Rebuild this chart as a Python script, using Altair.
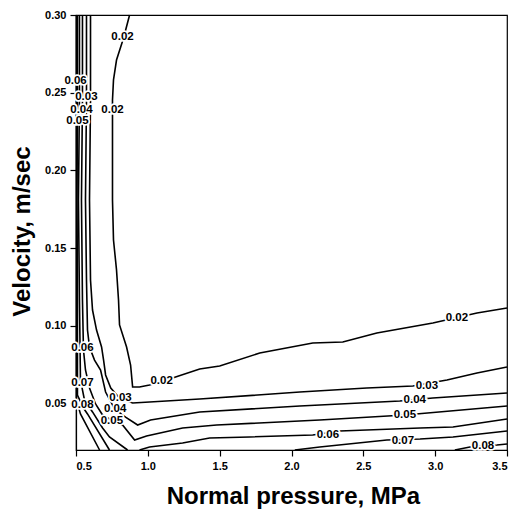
import altair as alt
import pandas as pd

# ---- contour polylines (Normal pressure MPa, Velocity m/s) ----
c002_x = [0.873, 0.831, 0.782, 0.761, 0.754, 0.754, 0.754, 0.761, 0.782, 0.796, 0.803, 0.852, 0.880, 0.894, 0.942, 1.012, 1.172, 1.361, 1.500, 1.779, 2.148, 2.357, 2.594, 2.984, 3.291, 3.500]
c002_y = [0.300, 0.2852, 0.2710, 0.2582, 0.2453, 0.2131, 0.1809, 0.1552, 0.1359, 0.1166, 0.1005, 0.0863, 0.0747, 0.0606, 0.0606, 0.0618, 0.0663, 0.0721, 0.0741, 0.0824, 0.0889, 0.0895, 0.0953, 0.1018, 0.1082, 0.1114]

c003_x = [0.601, 0.601, 0.594, 0.601, 0.615, 0.643, 0.678, 0.692, 0.706, 0.742, 0.803, 0.894, 1.012, 1.361, 2.058, 2.524, 2.845, 3.082, 3.291, 3.500]
c003_y = [0.300, 0.2453, 0.1809, 0.1294, 0.1101, 0.0972, 0.0863, 0.0779, 0.0683, 0.0599, 0.0535, 0.0503, 0.0509, 0.0528, 0.0573, 0.0599, 0.0612, 0.0651, 0.0696, 0.0734]

c004_x = [0.573, 0.573, 0.566, 0.573, 0.580, 0.594, 0.629, 0.671, 0.706, 0.768, 0.845, 0.929, 1.019, 1.361, 2.058, 2.754, 2.984, 3.500]
c004_y = [0.300, 0.2453, 0.1809, 0.1294, 0.0972, 0.0863, 0.0779, 0.0715, 0.0573, 0.0464, 0.0412, 0.0361, 0.0393, 0.0445, 0.0483, 0.0515, 0.0535, 0.0567]

c005_x = [0.545, 0.545, 0.538, 0.545, 0.552, 0.566, 0.594, 0.636, 0.685, 0.747, 0.824, 0.908, 0.991, 1.242, 1.479, 2.197, 2.789, 3.500]
c005_y = [0.300, 0.2453, 0.1809, 0.1166, 0.0844, 0.0715, 0.0599, 0.0496, 0.0425, 0.0393, 0.0361, 0.0264, 0.0290, 0.0342, 0.0361, 0.0393, 0.0425, 0.0483]

c006a_x = [0.524, 0.524, 0.517, 0.524, 0.531, 0.559, 0.615, 0.685, 0.733, 0.859]
c006a_y = [0.300, 0.2453, 0.1809, 0.1166, 0.0651, 0.0522, 0.0445, 0.0342, 0.0284, 0.020]
c006b_x = [0.942, 1.012, 1.242, 1.430, 1.709, 2.148, 2.336, 2.895, 3.124, 3.500]
c006b_y = [0.020, 0.0219, 0.0245, 0.0277, 0.0284, 0.0297, 0.0322, 0.0342, 0.0348, 0.0400]

c007a_x = [0.510, 0.510, 0.507, 0.510, 0.510, 0.552, 0.580, 0.733]
c007a_y = [0.300, 0.2453, 0.1809, 0.1166, 0.0554, 0.0470, 0.0432, 0.020]
c007b_x = [2.023, 2.197, 2.664, 2.895, 3.124, 3.500]
c007b_y = [0.020, 0.0219, 0.0264, 0.0271, 0.0284, 0.0322]

c008a_x = [0.503, 0.503, 0.503, 0.503, 0.503, 0.531, 0.664]
c008a_y = [0.300, 0.2453, 0.1809, 0.1166, 0.0522, 0.0432, 0.020]
c008b_x = [3.137, 3.242, 3.430, 3.500]
c008b_y = [0.020, 0.0219, 0.0232, 0.0239]

# ---- contour labels ----
label_text = ["0.02", "0.02", "0.06", "0.03", "0.04", "0.05", "0.06", "0.07", "0.08",
              "0.03", "0.04", "0.05", "0.02", "0.02", "0.03", "0.04", "0.05", "0.06",
              "0.07", "0.08"]
label_x = [0.824, 0.754, 0.497, 0.572, 0.538, 0.510, 0.545, 0.545, 0.545,
           0.810, 0.772, 0.750, 1.096, 3.151, 2.942, 2.858, 2.789, 2.253,
           2.775, 3.333]
label_y = [0.2859, 0.2389, 0.2575, 0.2472, 0.2390, 0.2320, 0.0857, 0.0631, 0.0490,
           0.0535, 0.0462, 0.0388, 0.0644, 0.1050, 0.0612, 0.0522, 0.0425, 0.0297,
           0.0258, 0.0226]

x_ticks = [0.5, 1.0, 1.5, 2.0, 2.5, 3.0, 3.5]
y_ticks = [0.05, 0.10, 0.15, 0.20, 0.25, 0.30]

segments = [
    ("0.02", c002_x, c002_y), ("0.03", c003_x, c003_y), ("0.04", c004_x, c004_y),
    ("0.05", c005_x, c005_y), ("0.06a", c006a_x, c006a_y), ("0.06b", c006b_x, c006b_y),
    ("0.07a", c007a_x, c007a_y), ("0.07b", c007b_x, c007b_y),
    ("0.08a", c008a_x, c008a_y), ("0.08b", c008b_x, c008b_y),
]
rows = []
for seg, xs, ys in segments:
    for i, (a, b) in enumerate(zip(xs, ys)):
        rows.append({"seg": seg, "i": i, "x": a, "y": b})
lines_df = pd.DataFrame(rows)
labels_df = pd.DataFrame({"t": label_text, "x": label_x, "y": label_y})

FONT = "Liberation Sans"

X = alt.X("x:Q", scale=alt.Scale(domain=[0.5, 3.5], nice=False, zero=False),
          axis=alt.Axis(values=x_ticks, format=".1f", title="Normal pressure, MPa",
                        grid=False, titleX=217, titleY=53, titleBaseline="alphabetic",
                        titleAlign="center", labelPadding=4, tickSize=6))
Y = alt.Y("y:Q", scale=alt.Scale(domain=[0.02, 0.30], nice=False, zero=False),
          axis=alt.Axis(values=y_ticks, format=".2f", title="Velocity, m/sec",
                        grid=False, titleX=-47, titleY=216, titleBaseline="alphabetic",
                        titleAlign="center", titleAngle=270, labelPadding=4, tickSize=6))

lines = alt.Chart(lines_df).mark_line(color="black", strokeWidth=1.6).encode(
    x=X, y=Y, detail="seg:N", order="i:Q")

halo = alt.Chart(labels_df).mark_text(
    font=FONT, fontSize=11.5, fontWeight="bold", fill="white", stroke="white",
    strokeWidth=3.5, align="center", baseline="middle").encode(x=X, y=Y, text="t:N")
text = alt.Chart(labels_df).mark_text(
    font=FONT, fontSize=11.5, fontWeight="bold", color="black",
    align="center", baseline="middle").encode(x=X, y=Y, text="t:N")

chart = alt.layer(lines, halo, text).properties(
    width=431, height=435,
    padding={"left": 76, "top": 15, "right": 10, "bottom": 60},
    autosize=alt.AutoSizeParams(type="none"),
    background="white",
).configure_view(stroke="black", strokeWidth=1.2).configure_axis(
    labelFont=FONT, labelFontSize=11, labelFontWeight="bold", labelColor="black",
    tickColor="black", domainColor="black", domainWidth=1.2, tickWidth=1.2,
    titleFont=FONT, titleFontSize=24, titleFontWeight="bold", titleColor="black",
)

chart.save("out.html", embed_options={"renderer": "svg", "actions": False})
